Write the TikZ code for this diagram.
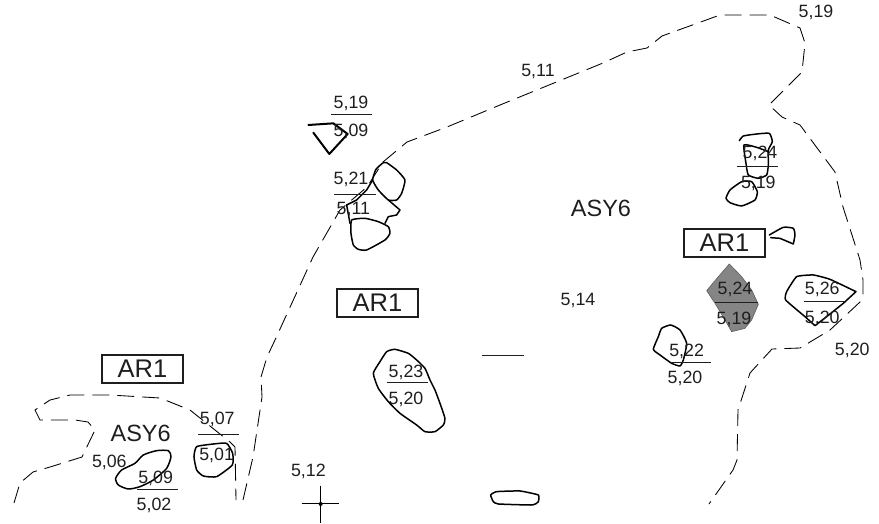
\documentclass[tikz,border=0pt]{standalone}
\usepackage{fontspec}
\setmainfont{Liberation Sans}
\definecolor{ink}{HTML}{1E1E1E}
\definecolor{greyfill}{HTML}{858585}
\tikzset{
  val/.style={font=\fontsize{17.8}{20}\selectfont,text=ink,inner sep=0pt,yshift=-1.6pt},
  zone/.style={font=\fontsize{23.5}{26}\selectfont,text=ink,inner sep=0pt},
  unitbox/.style={draw=ink,line width=1.8pt,font=\fontsize{25.5}{28}\selectfont,text=ink,inner sep=0pt,minimum width=81pt,minimum height=28pt},
  bound/.style={draw=black,line width=0.85pt,dash pattern=on 17pt off 8pt,line join=round},
  blob/.style={draw=black,line width=1.5pt,line join=round,line cap=round},
  frac/.style={draw=ink,line width=0.9pt},
}
\begin{document}
\begin{tikzpicture}[x=1pt,y=-1pt]
\useasboundingbox (0,0) rectangle (879,523);
% boundaries
\draw[bound] (14,503) -- (20,483) -- (33,472) -- (50,467) -- (82,457) -- (95,430) -- (88,422) -- (75,420) -- (40,420) -- (35,410) -- (50,400) -- (70,395) -- (110,395) -- (160,398) -- (190,410) -- (230,442) -- (235,447) -- (236,500);
\draw[bound] (243,500) -- (253,457) -- (262,397) -- (261,377) -- (267,357) -- (275,340) -- (313,257) -- (340,210) -- (367,187) -- (383,162) -- (407,142) -- (447,127) -- (500,105) -- (603,63) -- (627,52) -- (647,48) -- (662,36) -- (720,15) -- (770,15) -- (800,28) -- (805,43) -- (802,72) -- (769,105) -- (782,117) -- (800,125) -- (835,172) -- (843,207) -- (860,260) -- (863,280) -- (863,297) -- (860,302) -- (830,330) -- (800,348) -- (772,349) -- (750,373) -- (738,410) -- (737,460) -- (733,470) -- (709,504);
% bottom-left blobs
\begin{scope}[shift={(0,340)},x=0.3333pt,y=-0.3333pt]
\draw[blob] plot[smooth cycle,tension=0.4] coordinates {(430,345) (470,332) (505,332) (513,350) (500,385) (460,420) (420,440) (385,447) (355,435) (347,415) (365,390) (405,370)};
\draw[blob] plot[smooth cycle,tension=0.3] coordinates {(590,320) (640,312) (680,310) (698,340) (697,375) (650,410) (610,408) (590,390) (582,350)};
\draw[frac] (595,283) -- (717,283);
\draw[frac] (412,448) -- (535,448);
\node[val] (a1) at (652,233) {5,07};
\node[val] (a2) at (650,340) {5,01};
\node[val] (a3) at (467,410) {5,09};
\node[val] (a4) at (462,490) {5,02};
\node[val] (a5) at (328,362) {5,06};
\node[zone] (a6) at (422,280) {ASY6};
\end{scope}
\node[unitbox] (ar1a) at (142.5,369) {AR1};
% upper-middle cluster
\begin{scope}[shift={(250,80)},x=0.3333pt,y=-0.3333pt]
\draw[blob,line width=2pt] (175,135) -- (250,130);
\draw[blob,line width=2pt] (250,130) -- (293,162) -- (238,222) -- (190,158);
\draw[blob] plot[smooth cycle,tension=0.3] coordinates {(400,248) (378,268) (368,300) (385,330) (415,360) (440,360) (455,340) (465,300) (440,270) (410,248)};
\draw[blob] (415,360) -- (450,390) -- (440,405) -- (415,410) -- (405,430);
\draw[blob] (368,300) -- (350,330) -- (320,360) -- (290,375) -- (300,430);
\draw[blob] plot[smooth cycle,tension=0.3] coordinates {(305,420) (345,415) (385,425) (415,440) (420,460) (405,480) (350,510) (325,508) (310,495) (303,460)};
\draw[frac] (243,104) -- (367,104);
\draw[frac] (253,342) -- (378,342);
\node[val] (b1) at (303,65) {5,19};
\node[val] (b2) at (303,150) {5,09};
\node[val] (b3) at (303,293) {5,21};
\node[val] (b4) at (310,385) {5,11};
\end{scope}
% right cluster
\begin{scope}[shift={(640,120)},x=0.3333pt,y=-0.3333pt]
\draw[fill=greyfill,draw=greyfill!70!black,line width=0.6pt,line join=round] (268,432) -- (305,470) -- (335,510) -- (355,553) -- (335,600) -- (315,625) -- (275,635) -- (255,600) -- (225,550) -- (200,512) -- (235,470) -- cycle;
\draw[frac] (225,548) -- (355,548);
\draw[blob] plot[smooth,tension=0.3] coordinates {(388,345) (430,322) (460,325) (465,345) (460,372)} -- (420,355) -- (392,353);
\draw[blob] plot[smooth,tension=0.3] coordinates {(298,62) (310,48) (350,42) (388,40) (397,65) (385,90) (385,135) (380,165) (355,175) (325,165) (318,130) (312,75) (350,82) (385,95)};
\draw[blob] plot[smooth cycle,tension=0.3] coordinates {(305,185) (335,185) (352,215) (345,240) (305,258) (270,248) (258,235) (270,210)};
\draw[blob] plot[smooth,tension=0.25] coordinates {(648,515) (570,478) (520,465) (470,470) (440,515) (437,540) (495,590) (525,617)} -- (560,590) -- (610,550) -- cycle;
\draw[blob] plot[smooth cycle,tension=0.3] coordinates {(92,615) (120,630) (140,670) (130,720) (120,738) (95,730) (60,705) (40,688) (55,650) (65,625)};
\draw[frac] (290,140) -- (413,140);
\draw[frac] (492,545) -- (615,545);
\node[val] (c1) at (360,95) {5,24};
\node[val] (c2) at (355,185) {5,19};
\node[val] (c3) at (285,503) {5,24};
\node[val] (c4) at (282,595) {5,19};
\node[val] (c5) at (547,503) {5,26};
\node[val] (c6) at (547,590) {5,20};
\node[val] (c7) at (637,687) {5,20};
\end{scope}
\node[unitbox] (ar1c) at (724.5,243) {AR1};
\begin{scope}[shift={(640,310)},x=0.3333pt,y=-0.3333pt]
\draw[frac] (95,156) -- (212,156);
\node[val] (d1) at (140,120) {5,22};
\node[val] (d2) at (135,200) {5,20};
\end{scope}
% centre-bottom
\begin{scope}[shift={(280,330)},x=0.3333pt,y=-0.3333pt]
\draw[blob] plot[smooth cycle,tension=0.3] coordinates {(320,65) (345,58) (385,70) (410,90) (435,115) (450,150) (465,180) (480,220) (495,265) (490,285) (465,305) (435,305) (410,285) (360,250) (325,215) (295,175) (280,130) (300,95)};
\draw[frac] (320,158) -- (445,158);
\draw[frac] (607,77) -- (731,77);
\draw[blob] plot[smooth cycle,tension=0.25] coordinates {(632,495) (650,485) (720,483) (775,495) (775,515) (758,525) (655,522) (640,515)};
\draw[line width=1pt] (65,522) -- (178,522);
\draw[line width=1pt] (122,467) -- (122,578);
\fill (122,522) circle (6);
\node[val] (e1) at (378,122) {5,23};
\node[val] (e2) at (378,203) {5,20};
\node[val] (e3) at (85,420) {5,12};
\end{scope}
% free labels
\node[val] (f1) at (538,70) {5,11};
\node[val] (f2) at (816,11) {5,19};
\node[zone] (f3) at (601,208) {ASY6};
\node[val] (f4) at (578,299) {5,14};
\node[unitbox] (ar1b) at (377.5,303) {AR1};
\end{tikzpicture}
\end{document}
